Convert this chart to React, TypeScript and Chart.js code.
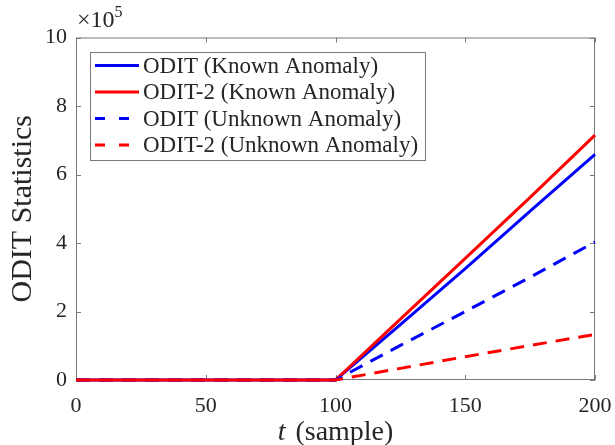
import React, { useEffect, useRef } from "react";
import { Chart, registerables } from "chart.js";

Chart.register(...registerables);

const tSamples = [0, 100, 125, 150, 175, 200];
const oditKnown = [0, 0, 1.62, 3.25, 4.93, 6.59];
const odit2Known = [0, 0, 1.78, 3.55, 5.33, 7.15];
const oditUnknown = [0, 0, 1.01, 2.0, 3.0, 4.03];
const odit2Unknown = [0, 0, 0.34, 0.68, 1.01, 1.33];
const seriesLabels = [
  "ODIT (Known Anomaly)",
  "ODIT-2 (Known Anomaly)",
  "ODIT (Unknown Anomaly)",
  "ODIT-2 (Unknown Anomaly)",
];
const xTicks = [0, 50, 100, 150, 200];
const yTicks = [0, 2, 4, 6, 8, 10];

const SERIF = `"Liberation Serif", "DejaVu Serif", serif`;
const TXT = "#262626";
const AXC = "#7a7a7a";

const toPts = (ys: number[]) => tSamples.map((x, i) => ({ x, y: ys[i] }));

const framePlugin = {
  id: "frame",
  beforeDatasetsDraw(chart: any) {
    const { ctx, chartArea: a, scales } = chart;
    ctx.save();
    ctx.strokeStyle = AXC;
    ctx.lineWidth = 1;
    ctx.strokeRect(a.left + 0.5, a.top + 0.5, a.right - a.left - 1, a.bottom - a.top - 1);
    const tl = 5;
    ctx.beginPath();
    xTicks.forEach((v) => {
      const x = Math.round(scales.x.getPixelForValue(v)) + 0.5;
      ctx.moveTo(x, a.bottom);
      ctx.lineTo(x, a.bottom - tl);
      ctx.moveTo(x, a.top);
      ctx.lineTo(x, a.top + tl);
    });
    yTicks.forEach((v) => {
      const y = Math.round(scales.y.getPixelForValue(v)) + 0.5;
      ctx.moveTo(a.left, y);
      ctx.lineTo(a.left + tl, y);
      ctx.moveTo(a.right, y);
      ctx.lineTo(a.right - tl, y);
    });
    ctx.stroke();
    ctx.restore();
  },
  afterDraw(chart: any) {
    const { ctx, chartArea: a } = chart;
    ctx.save();
    ctx.fillStyle = TXT;
    ctx.textBaseline = "alphabetic";
    ctx.textAlign = "left";
    ctx.font = `24px ${SERIF}`;
    ctx.fillText("\u00d710", a.left + 1, 27);
    const w = ctx.measureText("\u00d710").width;
    ctx.font = `16px ${SERIF}`;
    ctx.fillText("5", a.left + 1 + w, 17);

    ctx.save();
    ctx.translate(23, (a.top + a.bottom) / 2);
    ctx.rotate(-Math.PI / 2);
    ctx.textAlign = "center";
    ctx.textBaseline = "middle";
    ctx.font = `30px ${SERIF}`;
    ctx.fillText("ODIT Statistics", 0, 0);
    ctx.restore();

    ctx.textBaseline = "middle";
    ctx.font = `italic 28px ${SERIF}`;
    const tW = ctx.measureText("t").width;
    ctx.font = `28px ${SERIF}`;
    const rest = " (sample)";
    const rW = ctx.measureText(rest).width;
    const cx = (a.left + a.right) / 2;
    const x0 = cx - (tW + rW + 3) / 2;
    ctx.font = `italic 28px ${SERIF}`;
    ctx.fillText("t", x0, 433);
    ctx.font = `28px ${SERIF}`;
    ctx.fillText(rest, x0 + tW + 3, 433);

    const lx = 90.5, ly = 52.5, lw = 335, lh = 108;
    ctx.fillStyle = "#ffffff";
    ctx.fillRect(lx, ly, lw, lh);
    ctx.strokeStyle = AXC;
    ctx.lineWidth = 1;
    ctx.strokeRect(lx, ly, lw, lh);
    const rows = [65.5, 92, 118.5, 145];
    const cols = ["#0000ff", "#ff0000", "#0000ff", "#ff0000"];
    ctx.font = `23px ${SERIF}`;
    ctx.textAlign = "left";
    ctx.textBaseline = "middle";
    rows.forEach((y, i) => {
      ctx.strokeStyle = cols[i];
      ctx.lineWidth = 3;
      ctx.lineCap = "butt";
      ctx.setLineDash(i >= 2 ? [10, 14] : []);
      ctx.beginPath();
      ctx.moveTo(95, y);
      ctx.lineTo(139, y);
      ctx.stroke();
      ctx.setLineDash([]);
      ctx.fillStyle = TXT;
      ctx.fillText(seriesLabels[i], 143, y + 1);
    });
    ctx.restore();
  },
};

export default function App() {
  const ref = useRef<HTMLCanvasElement | null>(null);
  useEffect(() => {
    if (!ref.current) return;
    const mk = (data: number[], color: string, dashed: boolean, order: number) => ({
      data: toPts(data),
      borderColor: color,
      backgroundColor: color,
      borderWidth: 3,
      borderDash: dashed ? [14, 9] : [],
      borderCapStyle: "butt",
      pointRadius: 0,
      tension: 0,
      fill: false,
      clip: 3,
      order,
    });
    const chart = new Chart(ref.current, {
      type: "line",
      data: {
        datasets: [
          { label: seriesLabels[0], ...mk(oditKnown, "#0000ff", false, 4) },
          { label: seriesLabels[1], ...mk(odit2Known, "#ff0000", false, 3) },
          { label: seriesLabels[2], ...mk(oditUnknown, "#0000ff", true, 2) },
          { label: seriesLabels[3], ...mk(odit2Unknown, "#ff0000", true, 1) },
        ] as any,
      },
      options: {
        animation: false,
        responsive: false,
        maintainAspectRatio: false,
        layout: { padding: { left: 0, top: 37.5, right: 20, bottom: 0 } },
        plugins: { legend: { display: false }, tooltip: { enabled: false } },
        scales: {
          x: {
            type: "linear",
            min: 0,
            max: 200,
            afterFit: (s: any) => { s.height = 65; s.paddingLeft = 0; s.paddingRight = 0; },
            afterBuildTicks: (s: any) => { s.ticks = xTicks.map((v) => ({ value: v })); },
            grid: { display: false, drawTicks: false },
            border: { display: false },
            ticks: {
              font: { family: SERIF, size: 22 },
              color: TXT,
              padding: 13,
              maxRotation: 0,
              autoSkip: false,
            },
          },
          y: {
            type: "linear",
            min: 0,
            max: 10,
            afterFit: (s: any) => { s.width = 76; s.paddingTop = 0; s.paddingBottom = 0; },
            afterBuildTicks: (s: any) => { s.ticks = yTicks.map((v) => ({ value: v })); },
            grid: { display: false, drawTicks: false },
            border: { display: false },
            ticks: {
              font: { family: SERIF, size: 22 },
              color: TXT,
              padding: 9,
              autoSkip: false,
            },
          },
        },
      },
      plugins: [framePlugin],
    } as any);
    return () => chart.destroy();
  }, []);
  return (
    <div style={{ position: "absolute", left: 0, top: 0, width: 615, height: 445, background: "#fff" }}>
      <canvas ref={ref} width={615} height={445} style={{ display: "block" }} />
    </div>
  );
}
